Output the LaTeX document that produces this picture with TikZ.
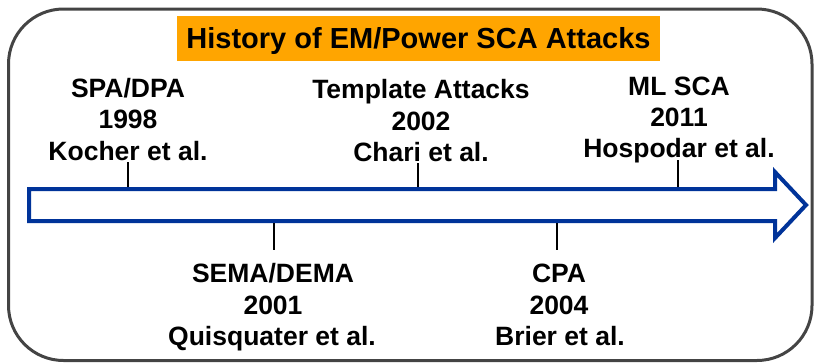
\documentclass[tikz,border=0pt]{standalone}
\usepackage{fontspec}
\setmainfont{Liberation Sans}
\definecolor{frame}{RGB}{68,68,68}
\definecolor{titleorange}{RGB}{255,165,0}
\definecolor{arrowblue}{RGB}{0,51,153}
\tikzset{
  lbl/.style={anchor=base, inner sep=0pt, font=\fontsize{26.5bp}{32bp}\selectfont\bfseries},
  tick/.style={draw=black, line width=2bp},
}
\begin{document}
\begin{tikzpicture}[x=1bp, y=-1bp]
  \useasboundingbox (0,0) rectangle (815,363);

  % outer rounded frame
  \draw[frame, line width=3bp, rounded corners=55bp] (8.5,9) rectangle (812,360.5);

  % title banner
  \node[fill=titleorange, inner sep=0pt, minimum width=483bp, minimum height=45bp,
        text height=20.5bp, text depth=0pt, font=\fontsize{29bp}{32bp}\selectfont\bfseries]
        (title) at (418.5,38.5) {History of EM/Power SCA Attacks};

  % timeline arrow
  \draw[arrowblue, line width=4bp, line join=miter]
    (29,189) -- (775,189) -- (775,172) -- (806,205) -- (775,238) -- (775,221) -- (29,221) -- cycle;

  % events above the timeline
  \node[lbl] (spaA) at (128,97)  {SPA/DPA};
  \node[lbl] (spaB) at (128,128) {1998};
  \node[lbl] (spaC) at (128,160) {Kocher et al.};

  \node[lbl] (tmpA) at (421,98)  {Template Attacks};
  \node[lbl] (tmpB) at (421,130) {2002};
  \node[lbl] (tmpC) at (421,161) {Chari et al.};

  \node[lbl] (mlA) at (679,95)  {ML SCA};
  \node[lbl] (mlB) at (679,126) {2011};
  \node[lbl] (mlC) at (679,157) {Hospodar et al.};

  % events below the timeline
  \node[lbl] (semA) at (273,282) {SEMA/DEMA};
  \node[lbl] (semB) at (273,314) {2001};
  \node[lbl] (semC) at (272,345) {Quisquater et al.};

  \node[lbl] (cpaA) at (559,282) {CPA};
  \node[lbl] (cpaB) at (559,314) {2004};
  \node[lbl] (cpaC) at (560,345) {Brier et al.};

  % tick marks joining events to the timeline
  \coordinate (spaT) at (128,162); \coordinate (spaX) at (128,187);
  \coordinate (tmpT) at (418,163); \coordinate (tmpX) at (418,187);
  \coordinate (mlT)  at (678,160); \coordinate (mlX)  at (678,187);
  \coordinate (semX) at (274,223); \coordinate (semT) at (274,250);
  \coordinate (cpaX) at (557,223); \coordinate (cpaT) at (557,250);
  \draw[tick] (spaT) -- (spaX);
  \draw[tick] (tmpT) -- (tmpX);
  \draw[tick] (mlT) -- (mlX);
  \draw[tick] (semX) -- (semT);
  \draw[tick] (cpaX) -- (cpaT);
\end{tikzpicture}
\end{document}
